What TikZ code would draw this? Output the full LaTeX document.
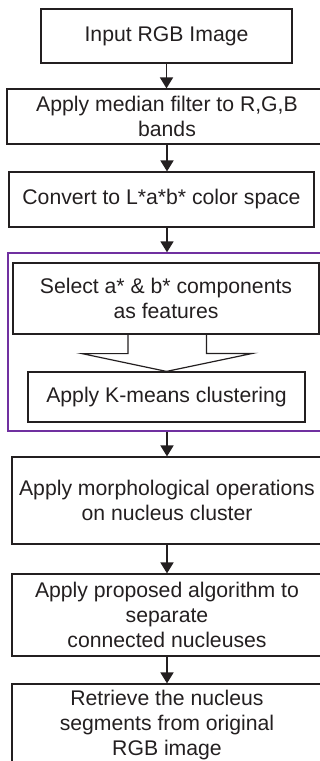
\documentclass[tikz,border=0pt]{standalone}
\usepackage{fontspec}
\setmainfont{Liberation Sans}
\usetikzlibrary{arrows.meta}
\definecolor{grpviolet}{RGB}{112,48,160}
\definecolor{inkgray}{RGB}{35,31,32}
\tikzset{
  procbox/.style={draw=inkgray, line width=1.2pt, align=center, inner sep=0pt,
    text=inkgray, font=\fontsize{21.2}{25}\selectfont},
  flowarrow/.style={draw=inkgray, line width=1.8pt,
    -{Triangle[length=11pt,width=13pt]}},
}
\begin{document}
\begin{tikzpicture}[x=1pt, y=-1pt]
        \useasboundingbox (0, 0) rectangle (320, 761);
        \clip (0, 0) rectangle (320, 761);

        % Upper steps
        \node at (166.5, 36) (input) [procbox, minimum width=251pt, minimum height=54pt] {Input RGB Image};
        \node at (167, 116.5) (median) [procbox, minimum width=320pt, minimum height=55pt] {Apply median filter to R,G,B\\bands};
        \node at (161.5, 199.5) (convert) [procbox, minimum width=305pt, minimum height=55pt] {Convert to L*a*b* color space};

        % Clustering group
        \node at (167, 342) (group) [draw=grpviolet, line width=1.3pt, minimum width=318pt, minimum height=178pt] {};
        \node at (166, 298.5) (select) [procbox, minimum width=306pt, minimum height=71pt] {Select a* \& b* components\\as features};
        \node at (166.5, 397) (kmeans) [procbox, minimum width=277pt, minimum height=50pt] {Apply K-means clustering};

        % Lower steps
        \node at (167, 500.5) (morph) [procbox, minimum width=310pt, minimum height=87pt] {Apply morphological operations\\on nucleus cluster};
        \node at (167, 615) (separate) [procbox, minimum width=310pt, minimum height=82pt] {Apply proposed algorithm to\\separate\\connected nucleuses};
        \node at (167, 725) (retrieve) [procbox, minimum width=310pt, minimum height=82pt] {Retrieve the nucleus\\segments from original\\RGB image};

        % Draw flow arrows
        \draw[flowarrow] (input.south) -- (input.south |- median.north);
        \draw[flowarrow] (median.south) -- (median.south |- convert.north);
        \draw[flowarrow] (median.south |- convert.south) -- (median.south |- group.north);
        \draw[flowarrow] (group.south) -- (group.south |- morph.north);
        \draw[flowarrow] (morph.south) -- (separate.north);
        \draw[flowarrow] (separate.south) -- (retrieve.north);

        % Block arrow between select and kmeans
        \draw[draw=inkgray, line width=1.2pt, line join=miter]
          ([xshift=-38pt]select.south) -- ++(0, 19) -- ++(-46, 0) -- (kmeans.north)
          -- ++(86, -18) -- ++(-46, 0) -- ++(0, -19);
    \end{tikzpicture}
\end{document}
